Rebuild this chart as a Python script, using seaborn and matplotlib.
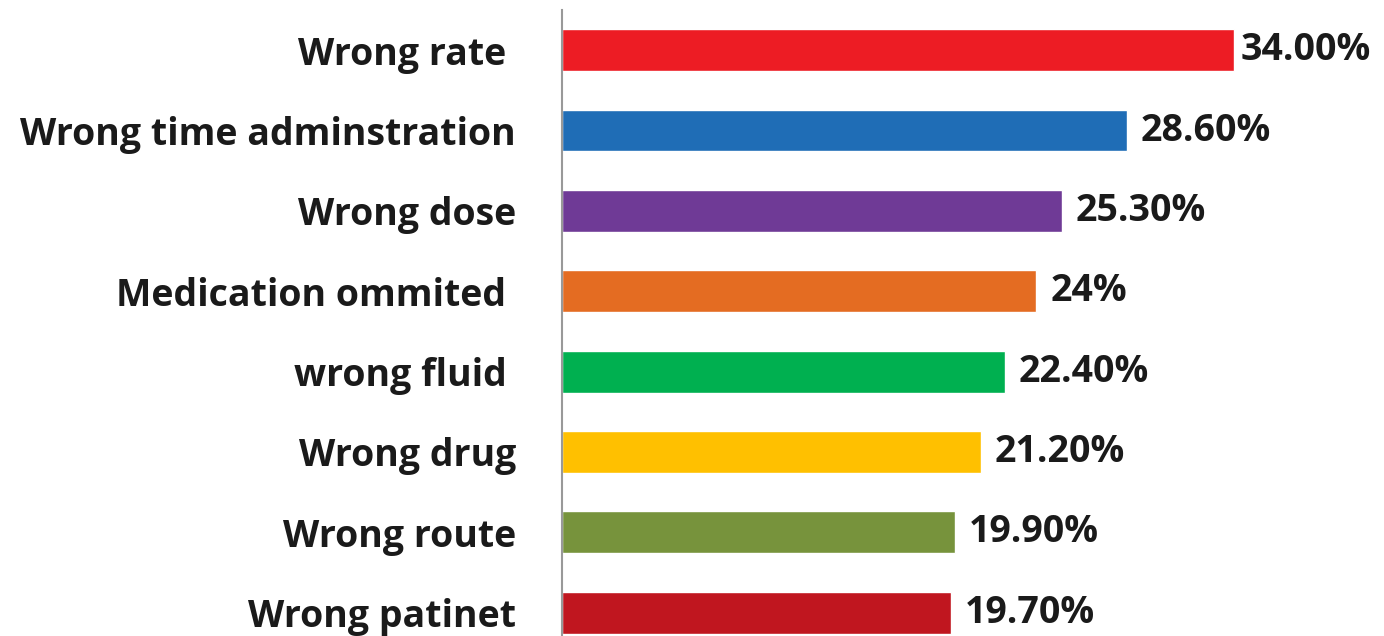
import matplotlib
matplotlib.use("Agg")
import matplotlib.pyplot as plt
import seaborn as sns
import pandas as pd

# chart data
categories = ["Wrong rate ", "Wrong time adminstration", "Wrong dose", "Medication ommited ",
              "wrong fluid ", "Wrong drug", "Wrong route", "Wrong patinet"]
values = [34.0, 28.6, 25.3, 24.0, 22.4, 21.2, 19.9, 19.7]
labels = ["34.00%", "28.60%", "25.30%", "24%", "22.40%", "21.20%", "19.90%", "19.70%"]
colors = ["#ED1C24", "#1F6DB6", "#6F3A96", "#E46C22", "#00B050", "#FFC000", "#77933C", "#C0161F"]

df = pd.DataFrame({"Error": categories, "Percent": values})

sns.set_style("white")
plt.rcParams["font.family"] = ["Open Sans", "DejaVu Sans"]

fig = plt.figure(figsize=(13.84, 6.36), dpi=100)
ax = fig.add_axes([562 / 1384, 0, 1 - 562 / 1384, 626 / 636])

sns.barplot(data=df, x="Percent", y="Error", hue="Error", palette=colors,
            legend=False, width=0.52, saturation=1, ax=ax)

for i, (cont, lab) in enumerate(zip(ax.containers, labels)):
    pad = 5 if i == 0 else 10
    ax.bar_label(cont, labels=[lab], padding=pad, fontsize=27, fontweight="bold", color="#1a1a1a")

ax.set_xlim(0, 41.6)
ax.set_ylim(7.29, -0.5)
ax.set_xlabel("")
ax.set_ylabel("")
ax.set_xticks([])
ax.tick_params(axis="y", length=0, pad=33, labelsize=27)
for t in ax.get_yticklabels():
    t.set_fontweight("bold")
    t.set_color("#1a1a1a")

for s in ["top", "right", "bottom"]:
    ax.spines[s].set_visible(False)
ax.spines["left"].set_color("#999999")
ax.spines["left"].set_linewidth(1.5)

fig.savefig("out.png", dpi=100)
